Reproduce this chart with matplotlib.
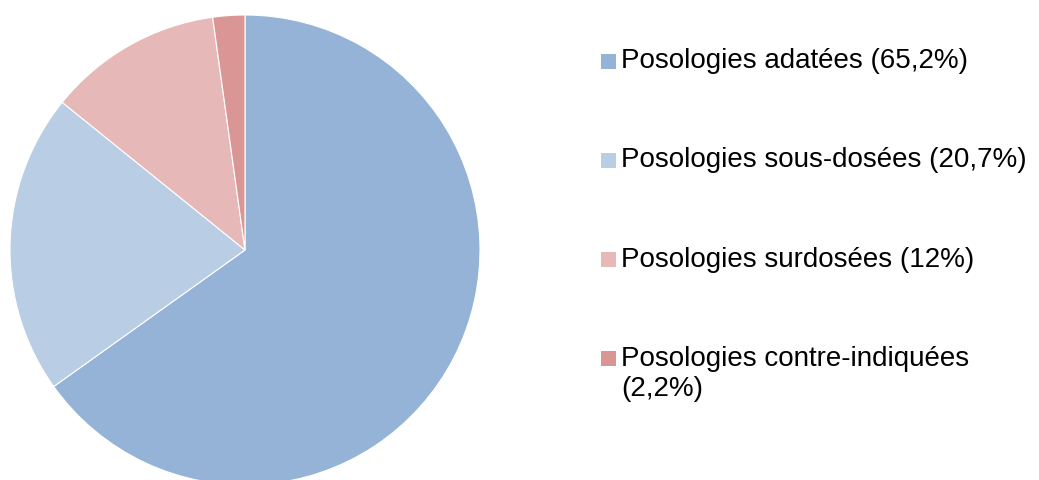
import matplotlib.pyplot as plt
from matplotlib.patches import Rectangle

plt.rcParams['font.family'] = ['Liberation Sans', 'DejaVu Sans']

# data
labels = ['Posologies adatées (65,2%)',
          'Posologies sous-dosées (20,7%)',
          'Posologies surdosées (12%)',
          'Posologies contre-indiquées\n(2,2%)']
values = [65.2, 20.7, 12, 2.2]
colors = ['#95B3D7', '#B9CDE5', '#E6B9B8', '#D99694']

W, H = 1039, 480
fig = plt.figure(figsize=(W / 100, H / 100), dpi=100)
ax = fig.add_axes([10 / W, -5 / H, 470 / W, 470 / H])
ax.pie(values, colors=colors, startangle=90, counterclock=False,
       wedgeprops={'edgecolor': 'white', 'linewidth': 0.8})
ax.set_xlim(-1, 1)
ax.set_ylim(-1, 1)
ax.set_aspect('auto')
ax.axis('off')

# legend drawn by hand so the marker sits on the first line of a wrapped label
base0, step, line_h = 68, 99.3, 30
for i, (lab, col) in enumerate(zip(labels, colors)):
    yb = base0 + i * step
    fig.add_artist(Rectangle((601 / W, 1 - (yb + 0.5) / H), 15 / W, 15 / H,
                             facecolor=col, edgecolor='none',
                             transform=fig.transFigure))
    for j, line in enumerate(lab.split('\n')):
        fig.text(621 / W, 1 - (yb + j * line_h) / H, line, fontsize=20,
                 va='baseline', ha='left', color='black')

fig.savefig('out.png', dpi=100)
